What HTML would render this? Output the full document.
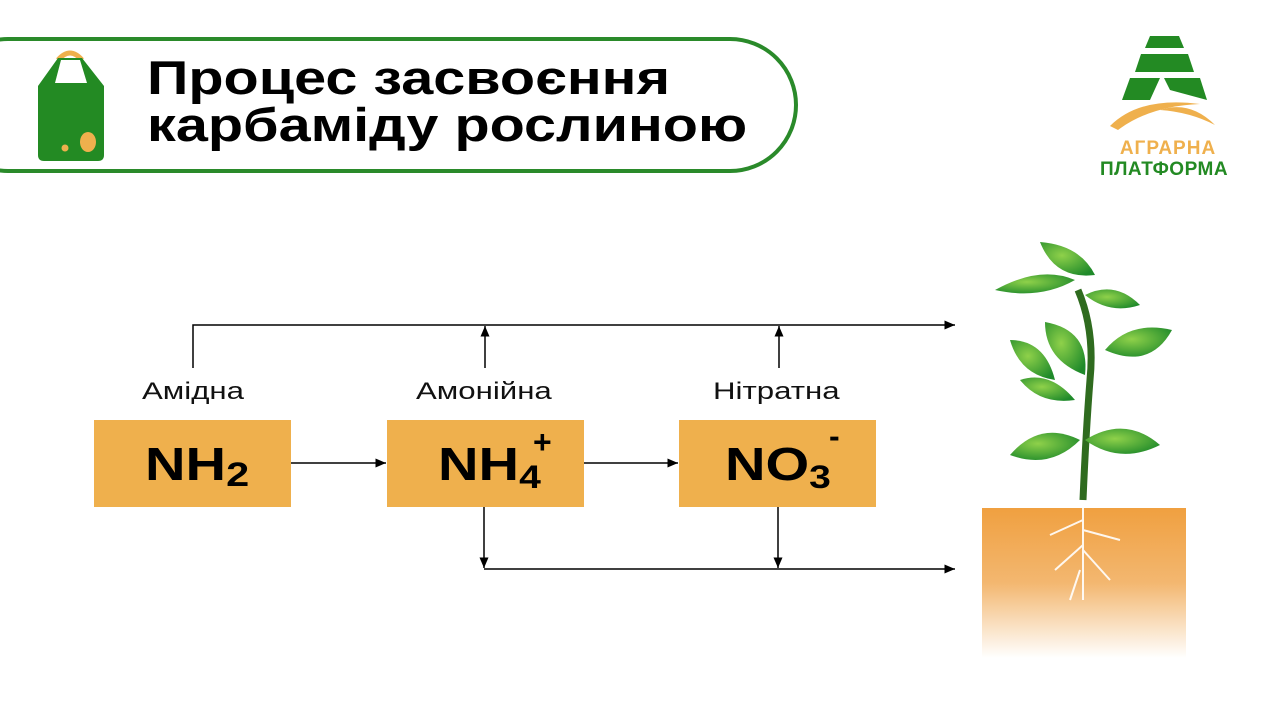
<!DOCTYPE html>
<html><head><meta charset="utf-8"><style>
body{margin:0;width:1280px;height:720px;background:#fff;overflow:hidden;position:relative;font-family:"Liberation Sans",sans-serif}
.bar{position:absolute;left:-60px;top:37px;width:858px;height:136px;border:4px solid #2a8a2a;border-radius:70px;box-sizing:border-box}
.t{position:absolute;left:147px;top:54px;font-size:47px;font-weight:bold;line-height:47px;color:#000;transform:scaleX(1.225);transform-origin:0 0;white-space:nowrap}
.box{position:absolute;top:420px;height:87px;width:197px;background:#efb04d;font-weight:bold;font-size:46px;color:#000}
.box span.m{position:absolute;top:17px;transform:scaleX(1.22);transform-origin:0 0;white-space:nowrap}
.lab{position:absolute;top:378px;font-size:24px;color:#111;transform:scaleX(1.3);transform-origin:0 0;white-space:nowrap}
</style></head><body>
<div class="bar"></div>
<svg style="position:absolute;left:0;top:0" width="1280" height="720">
 <path d="M58 60 Q70 46 82 60" stroke="#efb04d" stroke-width="5" fill="none"/>
 <path d="M58 58 L38 86 L38 155 Q38 161 44 161 L98 161 Q104 161 104 155 L104 86 L82 58 Z" fill="#238a23"/>
 <path d="M61 60 L55 83 L87 83 L80 60 Z" fill="#fff"/>
 <ellipse cx="88" cy="142" rx="8" ry="10" fill="#efb04d"/>
 <circle cx="65" cy="148" r="3.5" fill="#efb04d"/>
 <polygon points="1150,36 1179,36 1184,48 1145,48" fill="#238a23"/>
 <polygon points="1141,54 1188,54 1194,72 1135,72" fill="#238a23"/>
 <polygon points="1130,78 1160,78 1150,100 1122,100" fill="#238a23"/>
 <polygon points="1164,78 1200,78 1207,100 1170,90" fill="#238a23"/>
 <path d="M1110 126 Q1140 96 1200 104 Q1150 106 1118 130 Z" fill="#efb04d"/>
 <path d="M1160 110 Q1190 100 1215 125 Q1190 112 1160 110Z" fill="#efb04d"/>
 <text x="1168" y="154" font-size="19" font-weight="bold" fill="#efb04d" text-anchor="middle" font-family="Liberation Sans" letter-spacing="1">АГРАРНА</text>
 <text x="1164" y="175" font-size="19" font-weight="bold" fill="#238a23" text-anchor="middle" font-family="Liberation Sans" letter-spacing="0.5">ПЛАТФОРМА</text>
 <defs>
  <marker id="a" markerWidth="8" markerHeight="8" refX="7" refY="4" orient="auto"><path d="M0 1 L7 4 L0 7Z" fill="#000"/></marker>
  <linearGradient id="s" x1="0" y1="0" x2="0" y2="1"><stop offset="0" stop-color="#f0a040"/><stop offset="0.5" stop-color="#f3b770"/><stop offset="1" stop-color="#fff"/></linearGradient>
  <radialGradient id="lf" cx="0.4" cy="0.4" r="0.7"><stop offset="0" stop-color="#8fd14a"/><stop offset="1" stop-color="#1f8a2a"/></radialGradient>
 </defs>
 <g stroke="#000" stroke-width="1.5" fill="none">
  <path d="M193 368 V325 H955" marker-end="url(#a)"/>
  <path d="M485 368 V326" marker-end="url(#a)"/>
  <path d="M779 368 V326" marker-end="url(#a)"/>
  <path d="M291 463 H386" marker-end="url(#a)"/>
  <path d="M583 463 H678" marker-end="url(#a)"/>
  <path d="M484 507 V568" marker-end="url(#a)"/>
  <path d="M778 507 V568" marker-end="url(#a)"/>
  <path d="M484 569 H955" marker-end="url(#a)"/>
 </g>
 <rect x="982" y="508" width="204" height="150" fill="url(#s)"/>
 <g stroke="#fff" stroke-width="2" fill="none" opacity="0.9">
  <path d="M1083 508 V600 M1083 520 L1050 535 M1083 530 L1120 540 M1083 545 L1055 570 M1083 550 L1110 580 M1080 570 L1070 600"/>
 </g>
 <path d="M1083 500 Q1086 430 1090 380 Q1095 330 1078 290" stroke="#2f6b1f" stroke-width="7" fill="none"/>
 <g fill="url(#lf)">
  <path d="M1040 242 Q1080 245 1095 275 Q1055 280 1040 242Z"/>
  <path d="M995 290 Q1040 265 1075 280 Q1040 300 995 290Z"/>
  <path d="M1085 295 Q1115 280 1140 305 Q1110 315 1085 295Z"/>
  <path d="M1045 322 Q1090 330 1085 375 Q1045 360 1045 322Z"/>
  <path d="M1010 340 Q1045 340 1055 380 Q1020 375 1010 340Z"/>
  <path d="M1105 350 Q1130 320 1172 330 Q1150 370 1105 350Z"/>
  <path d="M1020 380 Q1050 370 1075 400 Q1040 405 1020 380Z"/>
  <path d="M1010 455 Q1040 420 1080 440 Q1050 470 1010 455Z"/>
  <path d="M1085 440 Q1125 415 1160 445 Q1120 465 1085 440Z"/>
 </g>
</svg>
<div class="t">Процес засвоєння<br>карбаміду рослиною</div>
<div class="lab" style="left:142px">Амідна</div>
<div class="lab" style="left:416px">Амонійна</div>
<div class="lab" style="left:713px">Нітратна</div>
<div class="box" style="left:94px"><span class="m" style="left:51px">NH<span style="font-size:34px;position:relative;top:6px">2</span></span></div>
<div class="box" style="left:387px"><span class="m" style="left:51px">NH<span style="font-size:32px;position:relative;top:8px">4</span></span><span style="position:absolute;left:146px;top:4px;font-size:32px">+</span></div>
<div class="box" style="left:679px"><span class="m" style="left:46px">NO<span style="font-size:32px;position:relative;top:8px">3</span></span><span style="position:absolute;left:150px;top:-2px;font-size:32px">-</span></div>
</body></html>
